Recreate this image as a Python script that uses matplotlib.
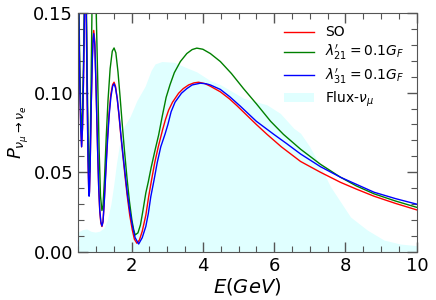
import numpy as np
import matplotlib.pyplot as plt
from matplotlib.ticker import MultipleLocator

# values (E in GeV, probability)
e_so = [0.50, 0.52, 0.55, 0.575, 0.60, 0.625, 0.65, 0.68, 0.70, 0.73, 0.755, 0.78, 0.80, 0.81, 0.82,
        0.84, 0.87, 0.90, 0.92, 0.94, 0.97, 1.00, 1.02, 1.05, 1.08, 1.11, 1.14, 1.17, 1.20, 1.23,
        1.27, 1.32, 1.37, 1.42, 1.47, 1.51, 1.55, 1.60, 1.65, 1.70, 1.76, 1.82, 1.88, 1.95, 2.02,
        2.08, 2.15, 2.22, 2.30, 2.40, 2.48, 2.56, 2.65, 2.75, 2.87, 2.95, 3.04, 3.15, 3.32, 3.45,
        3.60, 3.75, 3.88, 4.05, 4.21, 4.49, 4.75, 4.96, 5.20, 5.50, 5.80, 6.20, 6.74, 7.30, 7.86,
        8.30, 8.80, 9.40, 10.0]
p_so = [0.19, 0.15, 0.105, 0.078, 0.066, 0.078, 0.105, 0.15, 0.18, 0.15, 0.10, 0.058, 0.039, 0.036, 0.038,
        0.055, 0.093, 0.122, 0.134, 0.139, 0.132, 0.108, 0.090, 0.063, 0.040, 0.025, 0.018, 0.016, 0.019, 0.030,
        0.048, 0.070, 0.087, 0.099, 0.105, 0.1065, 0.104, 0.096, 0.085, 0.073, 0.060, 0.047, 0.035, 0.023, 0.014,
        0.008, 0.0055, 0.0075, 0.013, 0.023, 0.0347, 0.045, 0.056, 0.066, 0.0766, 0.083, 0.089, 0.094, 0.0996, 0.1025,
        0.1048, 0.1061, 0.1065, 0.1057, 0.1040, 0.1005, 0.0960, 0.0917, 0.0865, 0.0800, 0.0738, 0.0660, 0.0568, 0.0500, 0.0437,
        0.0395, 0.0350, 0.0305, 0.0264]

e_l21 = [0.50, 0.52, 0.55, 0.575, 0.60, 0.625, 0.65, 0.68, 0.70, 0.73, 0.755, 0.78, 0.80, 0.82, 0.84,
         0.865, 0.89, 0.92, 0.95, 0.98, 1.01, 1.05, 1.09, 1.13, 1.17, 1.20, 1.24, 1.29, 1.34, 1.40,
         1.46, 1.51, 1.56, 1.62, 1.68, 1.74, 1.80, 1.87, 1.94, 2.01, 2.06, 2.10, 2.18, 2.25, 2.32,
         2.40, 2.47, 2.55, 2.65, 2.76, 2.86, 2.97, 3.08, 3.20, 3.37, 3.55, 3.70, 3.83, 4.00, 4.21,
         4.49, 4.80, 5.14, 5.50, 5.90, 6.26, 6.74, 7.30, 7.86, 8.30, 8.80, 9.40, 10.0]
p_l21 = [0.20, 0.16, 0.115, 0.088, 0.076, 0.088, 0.115, 0.16, 0.19, 0.165, 0.115, 0.075, 0.055, 0.050, 0.065,
         0.105, 0.15, 0.17, 0.175, 0.165, 0.15, 0.11, 0.065, 0.035, 0.026, 0.029, 0.045, 0.072, 0.095, 0.115,
         0.126, 0.128, 0.125, 0.113, 0.097, 0.080, 0.064, 0.047, 0.032, 0.020, 0.014, 0.0107, 0.012, 0.017, 0.026,
         0.037, 0.044, 0.053, 0.063, 0.0734, 0.085, 0.097, 0.105, 0.1125, 0.1195, 0.1245, 0.127, 0.1279, 0.1272, 0.1245,
         0.1195, 0.112, 0.1025, 0.093, 0.082, 0.0738, 0.0645, 0.055, 0.0469, 0.0415, 0.0365, 0.032, 0.028]

e_l31 = [0.50, 0.52, 0.55, 0.575, 0.60, 0.625, 0.65, 0.68, 0.70, 0.73, 0.755, 0.78, 0.80, 0.81, 0.82,
         0.84, 0.87, 0.90, 0.92, 0.94, 0.97, 1.00, 1.02, 1.05, 1.08, 1.11, 1.14, 1.17, 1.20, 1.23,
         1.27, 1.32, 1.37, 1.42, 1.47, 1.51, 1.55, 1.60, 1.65, 1.70, 1.76, 1.82, 1.88, 1.95, 2.02,
         2.10, 2.20, 2.30, 2.40, 2.47, 2.54, 2.63, 2.72, 2.82, 2.94, 3.02, 3.11, 3.22, 3.40, 3.55,
         3.70, 3.93, 4.10, 4.21, 4.49, 4.75, 5.05, 5.50, 5.99, 6.35, 6.74, 7.30, 7.86, 8.30, 8.80,
         9.40, 10.0]
p_l31 = [0.19, 0.15, 0.105, 0.078, 0.066, 0.078, 0.105, 0.15, 0.18, 0.15, 0.10, 0.057, 0.038, 0.035, 0.037,
         0.054, 0.092, 0.120, 0.132, 0.137, 0.130, 0.107, 0.089, 0.063, 0.040, 0.026, 0.019, 0.0163, 0.019, 0.029,
         0.046, 0.067, 0.085, 0.097, 0.104, 0.1055, 0.103, 0.096, 0.086, 0.074, 0.061, 0.049, 0.037, 0.026, 0.017,
         0.009, 0.005, 0.009, 0.016, 0.024, 0.0347, 0.045, 0.056, 0.066, 0.074, 0.080, 0.088, 0.094, 0.0996, 0.1025,
         0.1048, 0.1059, 0.1055, 0.1048, 0.1020, 0.0975, 0.0915, 0.0820, 0.0738, 0.0680, 0.0615, 0.0535, 0.0469, 0.0425, 0.0375,
         0.0335, 0.030]

e_flux = [0.50, 0.62, 0.74, 0.86, 0.98, 1.10, 1.22, 1.32, 1.42, 1.50, 1.58, 1.68, 1.80, 1.96, 2.15,
          2.38, 2.55, 2.66, 2.85, 3.20, 3.50, 3.83, 4.21, 4.49, 5.14, 5.80, 6.17, 6.55, 6.74, 7.00,
          7.30, 7.58, 8.14, 8.61, 9.08, 9.54, 10.0]
p_flux = [0.0125, 0.014, 0.0145, 0.013, 0.0125, 0.013, 0.015, 0.020, 0.030, 0.042, 0.056, 0.070, 0.079, 0.085, 0.095,
          0.104, 0.114, 0.118, 0.1195, 0.119, 0.116, 0.113, 0.1075, 0.105, 0.0965, 0.0923, 0.087, 0.0776, 0.0745, 0.066,
          0.0536, 0.041, 0.022, 0.0138, 0.0075, 0.005, 0.004]

fig = plt.figure(figsize=(4.36, 3.0), dpi=100)
ax = fig.add_axes([0.179, 0.16, 0.777, 0.797])

ax.fill_between(e_flux, 0, p_flux, color='lightcyan', lw=0, label=r'Flux-$\nu_\mu$')
ax.plot(e_so, p_so, color='red', lw=1, label='SO')
ax.plot(e_l21, p_l21, color='green', lw=1, label=r'$\lambda^{\prime}_{21}=0.1G_F$')
ax.plot(e_l31, p_l31, color='blue', lw=1, label=r'$\lambda^{\prime}_{31}=0.1G_F$')

ax.set_xlim(0.5, 10)
ax.set_ylim(0, 0.15)
ax.xaxis.set_major_locator(MultipleLocator(2))
ax.xaxis.set_minor_locator(MultipleLocator(0.5))
ax.yaxis.set_minor_locator(MultipleLocator(0.01))
ax.set_yticks([0, 0.05, 0.10, 0.15])
ax.set_yticklabels(['0.00', '0.05', '0.10', '0.15'])

ax.tick_params(which='both', direction='in', top=True, right=True, labelsize=13, color='#555555')
ax.tick_params(which='major', length=7, width=1)
ax.tick_params(which='minor', length=4, width=0.8)
for s in ax.spines.values():
    s.set_color('#555555')

ax.set_xlabel(r'$E(GeV)$', fontsize=14, labelpad=0.5)
ax.set_ylabel(r'$P_{\nu_\mu\rightarrow\nu_e}$', fontsize=13, labelpad=2)

handles, labels = ax.get_legend_handles_labels()
order = [1, 2, 3, 0]
ax.legend([handles[i] for i in order], [labels[i] for i in order], loc='upper right',
          frameon=False, fontsize=10, handlelength=2.2, labelspacing=0.28, borderaxespad=0.5)

fig.savefig('out.png', dpi=100)
